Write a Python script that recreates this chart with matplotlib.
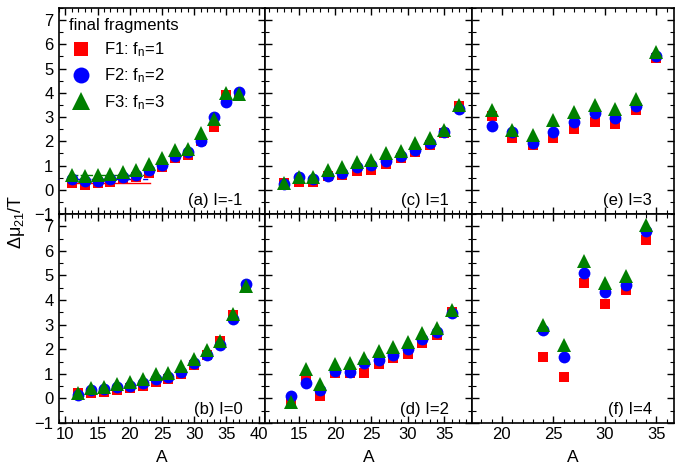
import matplotlib
matplotlib.use("Agg")
import matplotlib.pyplot as plt
from matplotlib.ticker import MultipleLocator

plt.rcParams['font.family'] = ['Liberation Sans', 'DejaVu Sans']
plt.rcParams['mathtext.fontset'] = 'custom'
plt.rcParams['mathtext.rm'] = 'Liberation Sans'
plt.rcParams['mathtext.it'] = 'Liberation Sans'
plt.rcParams['mathtext.bf'] = 'Liberation Sans:bold'

# (a) I=-1
A_a = [11, 13, 15, 17, 19, 21, 23, 25, 27, 29, 31, 33, 35, 37]
F1_a = [0.29, 0.20, 0.27, 0.34, 0.45, 0.52, 0.70, 0.93, 1.30, 1.43, 2.02, 2.57, 3.93, 3.89]
F2_a = [0.45, 0.38, 0.38, 0.44, 0.52, 0.59, 0.83, 1.04, 1.41, 1.54, 2.02, 3.02, 3.63, 4.04]
F3_a = [0.63, 0.55, 0.61, 0.67, 0.72, 0.83, 1.07, 1.30, 1.65, 1.68, 2.36, 2.94, 4.00, 3.96]
# averages drawn as short lines in panel (a)
avg_x_a = [10.5, 23.2]
avg_a = [0.29, 0.45, 0.62]

# (b) I=0
A_b = [12, 14, 16, 18, 20, 22, 24, 26, 28, 30, 32, 34, 36, 38]
F1_b = [0.20, 0.20, 0.26, 0.34, 0.41, 0.52, 0.68, 0.79, 1.00, 1.36, 1.75, 2.35, 3.41, 4.53]
F2_b = [0.14, 0.34, 0.37, 0.45, 0.52, 0.64, 0.78, 0.89, 1.09, 1.43, 1.77, 2.18, 3.23, 4.67]
F3_b = [0.23, 0.44, 0.48, 0.59, 0.65, 0.79, 0.98, 1.02, 1.32, 1.61, 1.98, 2.32, 3.45, 4.57]

# (c) I=1
A_c = [13, 15, 17, 19, 21, 23, 25, 27, 29, 31, 33, 35, 37]
F1_c = [0.27, 0.34, 0.31, 0.56, 0.61, 0.76, 0.83, 1.07, 1.30, 1.57, 1.86, 2.36, 3.46]
F2_c = [0.25, 0.52, 0.45, 0.56, 0.70, 0.93, 1.04, 1.20, 1.38, 1.65, 1.93, 2.40, 3.35]
F3_c = [0.30, 0.52, 0.52, 0.83, 0.95, 1.16, 1.24, 1.50, 1.61, 1.91, 2.12, 2.46, 3.50]

# (d) I=2
A_d = [14, 16, 18, 20, 22, 24, 26, 28, 30, 32, 34, 36]
F1_d = [-0.18, 0.78, 0.10, 1.02, 1.02, 1.02, 1.39, 1.64, 1.81, 2.25, 2.59, 3.52]
F2_d = [0.10, 0.64, 0.34, 1.12, 1.09, 1.46, 1.57, 1.77, 2.00, 2.41, 2.70, 3.48]
F3_d = [-0.16, 1.19, 0.59, 1.41, 1.46, 1.64, 1.91, 2.11, 2.29, 2.66, 2.86, 3.59]

# (e) I=3
A_e = [19, 21, 23, 25, 27, 29, 31, 33, 35]
F1_e = [3.06, 2.15, 1.84, 2.15, 2.52, 2.80, 2.73, 3.28, 5.44]
F2_e = [2.62, 2.40, 1.95, 2.40, 2.81, 3.16, 2.96, 3.45, 5.53]
F3_e = [3.30, 2.46, 2.28, 2.87, 3.22, 3.48, 3.32, 3.73, 5.67]

# (f) I=4
A_f = [24, 26, 28, 30, 32, 34]
F1_f = [1.68, 0.85, 4.71, 3.82, 4.39, 6.44]
F2_f = [2.80, 1.68, 5.12, 4.34, 4.60, 6.79]
F3_f = [2.97, 2.18, 5.57, 4.68, 4.98, 7.07]

panels = [
    ("(a) I=-1", A_a, F1_a, F2_a, F3_a),
    ("(c) I=1", A_c, F1_c, F2_c, F3_c),
    ("(e) I=3", A_e, F1_e, F2_e, F3_e),
    ("(b) I=0", A_b, F1_b, F2_b, F3_b),
    ("(d) I=2", A_d, F1_d, F2_d, F3_d),
    ("(f) I=4", A_f, F1_f, F2_f, F3_f),
]

red = '#ff0000'
blue = '#0000ff'
green = '#007f00'

fig = plt.figure(figsize=(6.75, 4.68), dpi=100)

col_edges = [0.0874, 0.3926, 0.6993, 0.9985]
row_edges = [0.983, 0.5427, 0.0962]
xlims = [(9, 41), (10.4, 38.8), (17.1, 36.7)]

axes = []
for i, (label, A, f1, f2, f3) in enumerate(panels):
    row = i // 3
    col = i % 3
    x0 = col_edges[col]
    w = col_edges[col + 1] - x0
    y0 = row_edges[row + 1]
    h = row_edges[row] - y0
    ax = fig.add_axes([x0, y0, w, h])
    axes.append(ax)

    ax.plot(A, f1, 's', color=red, markersize=7.5, markeredgewidth=0, label='F1: f$_\\mathregular{n}$=1')
    ax.plot(A, f2, 'o', color=blue, markersize=8.5, markeredgewidth=0, label='F2: f$_\\mathregular{n}$=2')
    ax.plot(A, f3, '^', color=green, markersize=9.5, markeredgewidth=0, label='F3: f$_\\mathregular{n}$=3')

    ax.set_xlim(*xlims[col])
    ax.set_ylim(-1, 7.5)
    ax.xaxis.set_major_locator(MultipleLocator(5))
    ax.xaxis.set_minor_locator(MultipleLocator(1))
    ax.yaxis.set_major_locator(MultipleLocator(1))
    ax.yaxis.set_minor_locator(MultipleLocator(0.5))
    ax.tick_params(which='both', direction='in', top=True, right=True, labelsize=12)
    ax.tick_params(which='major', length=5, width=1.0)
    ax.tick_params(which='minor', length=3, width=0.8)
    ax.tick_params(axis='x', pad=3)
    ax.tick_params(axis='y', pad=4)
    for s in ax.spines.values():
        s.set_linewidth(1.2)

    if col != 0:
        ax.set_yticklabels([])
    if row == 0:
        ax.set_xticklabels([])
    else:
        ax.set_xlabel("A", fontsize=12.5, labelpad=6)

    ax.text(0.89, 0.045, label, transform=ax.transAxes, ha='right', va='baseline', fontsize=12)

# average lines in (a)
ax = axes[0]
ax.plot(avg_x_a, [avg_a[0]] * 2, '-', color=red, linewidth=1.0, zorder=1)
ax.plot(avg_x_a, [avg_a[1]] * 2, '--', color=blue, linewidth=1.0, zorder=1)
ax.plot(avg_x_a, [avg_a[2]] * 2, '-.', color=green, linewidth=1.0, zorder=1)

leg = ax.legend(loc='upper left', title='final fragments', frameon=False, fontsize=12,
                title_fontsize=12, markerscale=1.35, handletextpad=0.6, labelspacing=0.45,
                borderaxespad=0.2, handlelength=1.5)
leg._legend_box.align = 'left'

fig.text(0.025, 0.526, '$\\Delta\\mu_{21}$/T', rotation=90, ha='center', va='center', fontsize=13)

fig.savefig("out.png", dpi=100)
